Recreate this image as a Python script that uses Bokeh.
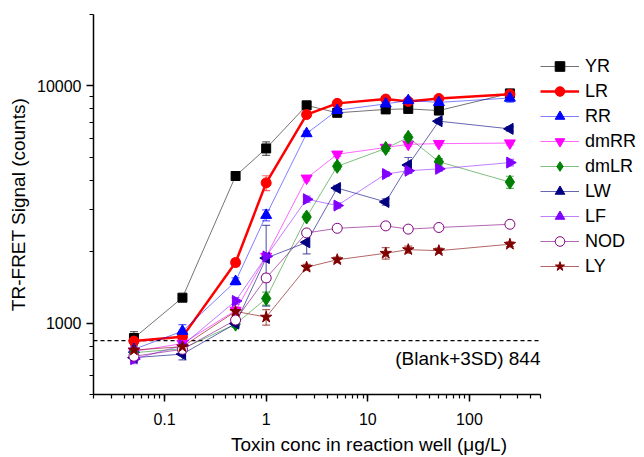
import math
from bokeh.plotting import figure
from bokeh.models import (ColumnDataSource, Whisker, Label, Legend, LegendItem,
                          FixedTicker, CustomJSTickFormatter, TeeHead, Range1d)
from bokeh.embed import file_html
from bokeh.resources import INLINE

# ---- data ----
conc = [0.05, 0.15, 0.5, 1, 2.5, 5, 15, 25, 50, 250]

yr = [865, 1280, 4170, 5450, 8280, 7700, 7960, 8000, 7870, 9300]
lr = [840, 875, 1800, 3900, 7570, 8440, 8800, 8600, 8850, 9230]
rr = [775, 925, 1500, 2850, 6300, 7890, 8400, 8680, 8520, 8890]
dmrr = [760, 820, 1130, 1910, 4080, 5150, 5500, 5670, 5710, 5740]
dmlr = [750, 780, 990, 1270, 2800, 4580, 5450, 6070, 4790, 3930]
lw = [715, 740, 995, 1880, 2190, 3710, 3240, 4640, 7100, 6590]
lf = [705, 805, 1240, 1910, 3330, 3130, 4250, 4390, 4470, 4750]
nod = [725, 775, 1030, 1550, 2400, 2510, 2570, 2490, 2530, 2610]
ly = [770, 795, 1120, 1060, 1720, 1850, 1970, 2040, 2020, 2150]

yr_err = [55, 30, 90, 360, 120, 150, 150, 150, 200, 350]
lr_err = [30, 30, 70, 280, 150, 150, 150, 200, 200, 200]
rr_err = [35, 60, 50, 150, 150, 150, 150, 150, 150, 350]
dmrr_err = [25, 25, 40, 60, 100, 100, 100, 100, 100, 100]
dmlr_err = [25, 25, 30, 80, 80, 150, 150, 150, 150, 230]
lw_err = [25, 40, 30, 700, 230, 100, 100, 350, 150, 150]
lf_err = [30, 25, 40, 60, 100, 80, 100, 100, 100, 150]
nod_err = [25, 25, 30, 60, 60, 40, 70, 50, 60, 80]
ly_err = [25, 25, 40, 80, 50, 50, 110, 70, 50, 50]

blank_3sd = 844
x_min, x_max = 0.02, 500
y_min, y_max = 500, 20000
x_major = [0.1, 1, 10, 100]
y_major = [1000, 10000]

FONT = "Liberation Sans"

series = [
    dict(name="YR", y=yr, e=yr_err, color="#000000", lalpha=0.55, lw=1, marker="square", angle=0, size=9, fill="#000000"),
    dict(name="LR", y=lr, e=lr_err, color="#FF0000", lalpha=1.0, lw=2.5, marker="circle", angle=0, size=10, fill="#FF0000"),
    dict(name="RR", y=rr, e=rr_err, color="#0000FF", lalpha=0.5, lw=1, marker="triangle", angle=0, size=11, fill="#0000FF"),
    dict(name="dmRR", y=dmrr, e=dmrr_err, color="#FF00FF", lalpha=0.6, lw=1, marker="inverted_triangle", angle=0, size=11, fill="#FF00FF"),
    dict(name="dmLR", y=dmlr, e=dmlr_err, color="#008000", lalpha=0.5, lw=1, marker="diamond", angle=0, size=14, fill="#008000"),
    dict(name="LW", y=lw, e=lw_err, color="#000080", lalpha=0.6, lw=1, marker="triangle", angle=math.pi / 2, size=11, fill="#000080"),
    dict(name="LF", y=lf, e=lf_err, color="#8000FF", lalpha=0.5, lw=1, marker="triangle", angle=-math.pi / 2, size=11, fill="#8000FF"),
    dict(name="NOD", y=nod, e=nod_err, color="#800080", lalpha=0.6, lw=1, marker="circle", angle=0, size=10, fill="#FFFFFF"),
    dict(name="LY", y=ly, e=ly_err, color="#800000", lalpha=0.6, lw=1, marker="star", angle=0, size=12, fill="#800000"),
]

# layout: the data area is 447 px wide; the frame continues to the right to hold the legend
W, H = 644, 457
LEFT, TOP, BOTTOM = 93, 14, 59
DATA_W = 447
frame_w = W - LEFT
dec_per_px = math.log10(x_max / x_min) / DATA_W
x_end = 10 ** (math.log10(x_max) + (frame_w - DATA_W) * dec_per_px)

p = figure(width=W, height=H, x_axis_type="log", y_axis_type="log",
           x_range=Range1d(x_min, x_end), y_range=Range1d(y_min, y_max),
           output_backend="svg", toolbar_location=None,
           min_border_left=LEFT, min_border_right=0, min_border_top=TOP, min_border_bottom=BOTTOM)
p.outline_line_color = None
p.xgrid.grid_line_color = None
p.ygrid.grid_line_color = None
p.background_fill_color = "white"
p.border_fill_color = "white"

x_minor = [k * 10.0 ** e for e in range(-2, 3) for k in range(1, 10) if x_min <= k * 10.0 ** e <= x_max]
y_minor = [k * 10.0 ** e for e in range(2, 5) for k in range(1, 10) if y_min <= k * 10.0 ** e <= y_max]
p.xaxis.ticker = FixedTicker(ticks=x_major, minor_ticks=x_minor)
p.yaxis.ticker = FixedTicker(ticks=y_major, minor_ticks=y_minor)
p.xaxis.bounds = (x_min, x_max)
fmt = CustomJSTickFormatter(code="return (tick < 1) ? tick.toFixed(1) : tick.toFixed(0);")
p.xaxis.formatter = fmt
p.yaxis.formatter = fmt

for ax in (p.xaxis[0], p.yaxis[0]):
    ax.axis_line_width = 1.5
    ax.axis_line_color = "black"
    ax.major_tick_line_width = 1.5
    ax.minor_tick_line_width = 1.2
    ax.major_tick_out = 7
    ax.major_tick_in = 0
    ax.minor_tick_out = 4
    ax.minor_tick_in = 0
    ax.major_label_text_font = FONT
    ax.major_label_text_font_size = "16px"
    ax.major_label_text_color = "black"
    ax.axis_label_text_font = FONT
    ax.axis_label_text_font_size = "19px"
    ax.axis_label_text_font_style = "normal"
    ax.axis_label_text_color = "black"

p.xaxis.axis_label = "Toxin conc in reaction well (μg/L)"
p.yaxis.axis_label = "TR-FRET Signal (counts)"
p.xaxis.major_label_standoff = 11
p.xaxis.axis_label_standoff = 6
p.yaxis.major_label_standoff = 5
p.yaxis.axis_label_standoff = 5

# blank + 3SD line across the data area
p.line([x_min, x_max], [blank_3sd, blank_3sd], line_color="black", line_dash="4 3", line_width=1.3)
p.add_layout(Label(x=x_max, y=708, text=f"(Blank+3SD) {blank_3sd}", text_align="right",
                   text_baseline="middle", text_font=FONT, text_font_size="19px",
                   text_color="black"))

items = []
for s in series:
    upper = [v + e for v, e in zip(s["y"], s["e"])]
    lower = [v - e for v, e in zip(s["y"], s["e"])]
    src = ColumnDataSource(dict(x=conc, y=s["y"], upper=upper, lower=lower))
    p.add_layout(Whisker(base="x", upper="upper", lower="lower", source=src,
                         dimension="height", line_color=s["color"], line_alpha=0.6, line_width=1.2,
                         upper_head=TeeHead(size=8, line_color=s["color"], line_alpha=0.6, line_width=1.2),
                         lower_head=TeeHead(size=8, line_color=s["color"], line_alpha=0.6, line_width=1.2)))
    lr_ = p.line("x", "y", source=src, line_color=s["color"], line_alpha=s["lalpha"], line_width=s["lw"])
    p.scatter("x", "y", source=src, marker=s["marker"], angle=s["angle"], size=s["size"],
              fill_color=s["fill"], line_color=s["color"], line_width=1)
    # smaller marker used only for the legend swatch (its single point has no y value, so it is not plotted)
    leg_src = ColumnDataSource(dict(x=[conc[0]], y=[float("nan")]))
    lg_ = p.scatter("x", "y", source=leg_src, marker=s["marker"], angle=s["angle"],
                    size=s["size"] * 0.7, fill_color=s["fill"], line_color=s["color"], line_width=1)
    items.append(LegendItem(label=s["name"], renderers=[lr_, lg_]))

legend = Legend(items=items, location=(DATA_W, 116), orientation="vertical",
                glyph_width=39, glyph_height=24, label_height=24, spacing=1,
                label_standoff=6, padding=0, margin=0,
                label_text_font=FONT, label_text_font_size="18px", label_text_color="black",
                border_line_color=None, background_fill_alpha=0)
p.add_layout(legend, "center")

open("out.html", "w").write(file_html(p, INLINE))
